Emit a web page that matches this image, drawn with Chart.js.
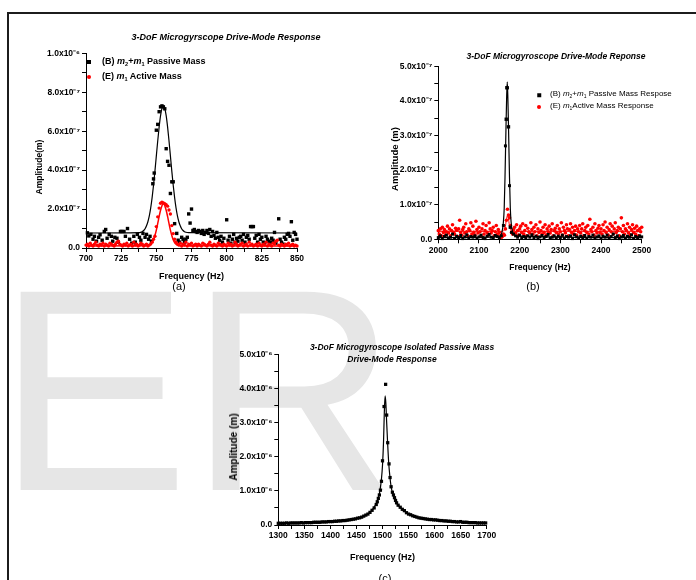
<!DOCTYPE html>
<html>
<head>
<meta charset="utf-8">
<script src="https://cdn.jsdelivr.net/npm/chart.js@4.4.1/dist/chart.umd.min.js"></script>
<style>
  html, body { margin: 0; padding: 0; background: #fff; }
  #page { position: relative; width: 696px; height: 580px; overflow: hidden; font-family: "Liberation Sans", Arial, sans-serif; color: #000; }
  .frame { position: absolute; left: 7px; top: 12px; width: 700px; height: 600px; border-left: 2px solid #1c1c1c; border-top: 2px solid #1c1c1c; }
  .mark { position: absolute; left: -3px; top: 246px; font-size: 288px; line-height: 1; color: #e6e6e6; white-space: nowrap; }
  .plot { position: absolute; }
  .txt { position: absolute; white-space: nowrap; line-height: 1; transform: translate(-50%, -50%); }
  .ttl { font-weight: bold; font-style: italic; }
  .ytl { font-weight: bold; transform: translate(-50%, -50%) rotate(-90deg); }
  .cap { font-size: 11px; }
  .lg { position: absolute; white-space: nowrap; line-height: 1; transform: translateY(-50%); }
  .lg sub { font-size: 0.62em; vertical-align: -0.3em; }
  .sq { position: absolute; width: 4px; height: 4px; background: #000; transform: translate(-50%, -50%); }
  .dot { position: absolute; width: 4px; height: 4px; border-radius: 50%; background: #ff0000; transform: translate(-50%, -50%); }
</style>
</head>
<body>
<div id="page">
  <div class="mark">ER</div>
  <div class="frame"></div>

  <canvas id="chartA" class="plot" width="350" height="268" style="left:0px;top:20px"></canvas>
  <canvas id="chartB" class="plot" width="336" height="250" style="left:360px;top:40px"></canvas>
  <canvas id="chartC" class="plot" width="320" height="235" style="left:200px;top:335px"></canvas>

  <!-- (a) -->
  <div class="txt ttl" style="left:226px;top:37px;font-size:9px">3-DoF Microgyrscope Drive-Mode Response</div>
  <div class="txt ytl" style="left:39px;top:167px;font-size:8.5px">Amplitude(m)</div>
  <div class="sq" style="left:89px;top:62px"></div>
  <div class="lg" style="left:102px;top:62px;font-size:9px;font-weight:bold">(B) <i>m</i><sub>2</sub>+<i>m</i><sub>1</sub> Passive Mass</div>
  <div class="dot" style="left:89px;top:77px"></div>
  <div class="lg" style="left:102px;top:77px;font-size:9px;font-weight:bold">(E) <i>m</i><sub>1</sub> Active Mass</div>
  <div class="txt cap" style="left:179px;top:286px">(a)</div>

  <!-- (b) -->
  <div class="txt ttl" style="left:556px;top:56px;font-size:8.5px">3-DoF Microgyroscope Drive-Mode Reponse</div>
  <div class="txt ytl" style="left:395px;top:159px;font-size:9.5px">Amplitude (m)</div>
  <div class="sq" style="left:539px;top:95px;width:3.5px;height:3.5px"></div>
  <div class="lg" style="left:550px;top:95px;font-size:8px">(B) <i>m</i><sub>2</sub>+<i>m</i><sub>1</sub> Passive Mass Respose</div>
  <div class="dot" style="left:539px;top:107px"></div>
  <div class="lg" style="left:550px;top:107px;font-size:8px">(E) <i>m</i><sub>1</sub>Active Mass Response</div>
  <div class="txt cap" style="left:533px;top:286px">(b)</div>

  <!-- (c) -->
  <div class="txt ttl" style="left:402px;top:347px;font-size:8.5px">3-DoF Microgyroscope Isolated Passive Mass</div>
  <div class="txt ttl" style="left:392px;top:359px;font-size:8.5px">Drive-Mode Response</div>
  <div class="txt ytl" style="left:234px;top:447px;font-size:10px">Amplitude (m)</div>
  <div class="txt cap" style="left:385px;top:578px">(c)</div>
</div>

<script>
// ---------- (a) 700-850 Hz, amplitudes in units of 1e-7 m ----------
const freqLabelsA = ["700", "725", "750", "775", "800", "825", "850"]
const ampLabelsA = ["0.0", "2.0x10⁻⁷", "4.0x10⁻⁷", "6.0x10⁻⁷", "8.0x10⁻⁷", "1.0x10⁻⁶"]

const passiveFreqA = [
  701, 702, 703.5, 705, 706, 707.5, 709, 710, 711.5, 713, 714, 715, 716.5, 718, 719, 720.5, 722, 723,
  724.5, 725.5, 727, 728, 729.5, 731, 732.5, 734, 735, 736.5, 738, 739, 740.5, 742, 743, 744.5, 745.5, 746.5,
  747.5, 748, 748.5, 750, 751, 752, 753, 754, 755, 756, 757, 758, 759, 760, 761, 762, 763,
  764.5, 765.5, 766.5, 768, 769, 770, 771, 772, 773, 774,
  775, 776, 777, 778, 779, 780, 781, 782, 783, 784, 785, 786, 787, 788, 789, 790, 791, 792, 793, 794, 795, 796, 797, 798,
  800, 801, 802, 803, 804, 805, 806, 807, 808, 809, 810, 811, 812, 813, 814, 815, 816, 817, 818, 819,
  820, 821, 822, 823, 824, 825, 826, 827, 828, 829, 830, 831, 832, 833, 834, 835,
  837, 838, 839, 840, 841, 842, 843, 844, 845, 846, 847, 848, 849, 850
]
const passiveAmpA = [
  .78, .62, .7, .45, .6, .35, .55, .68, .4, .85, .95, .5, .7, .6, .35, .55, .5, .3,
  .85, .85, .85, .6, 1.0, .45, .25, .6, .3, .7, .55, .4, .75, .55, .7, .45, .6, .35,
  3.3, 3.55, 3.85, 6.05, 6.35, 7.0, 7.25, 7.3, 7.25, 7.15, 5.1, 4.45, 4.25, 2.8, 3.4, 3.4, 1.25,
  .75, .4, .3, .55, .45, .3, .45, .55, 1.75, 1.28,
  2.0, .9, .95, .85, .8, .9, .85, .75, .9, .7, .8, .9, .75, .95, .6, .85, .65, .5, .8, .55, .4, .6, .3, .5,
  1.45, .4, .6, .25, .45, .7, .3, .5, .35, .55, .6, .4, .7, .3, .55, .65, .45, 1.1, 1.1, 1.1,
  .5, .65, .3, .7, .45, .55, .3, .25, .6, .45, .35, .3, .5, .4, .8, .25,
  1.5, .45, .3, .2, .55, .45, .7, .75, .6, 1.35, .4, .8, .7, .45
]
const passiveFitFreqA = [
  700, 738, 739, 740, 741, 742, 743, 744, 745, 746, 747, 748, 749, 750, 751, 752, 753, 754, 755,
  756, 757, 758, 759, 760, 761, 762, 763, 764, 765, 766, 767, 768, 769, 770, 771, 773, 850
]
const passiveFitAmpA = [
  .77, .79, .81, .84, .9, .99, 1.14, 1.35, 1.65, 2.06, 2.59, 3.22, 3.95, 4.73, 5.51, 6.22, 6.8, 7.17, 7.3,
  7.17, 6.8, 6.22, 5.51, 4.73, 3.95, 3.22, 2.59, 2.06, 1.65, 1.35, 1.14, .99, .9, .84, .81, .79, .77
]
// active mass sampled every 1 Hz from 700 Hz
const activeStartA = 700
const activeStepA = 1
const activeAmpA = [
  .15, .2, .1, .25, .15, .1, .2, .3, .15, .1, .2, .15, .25, .1, .2, .15, .1, .25, .2, .15,
  .1, .2, .3, .35, .2, .15, .1, .2, .15, .25, .1, .15, .2, .1, .3, .15, .2, .1, .15, .25,
  .2, .1, .15, .2, .1, .15, .2, .3, .45, .6, 1.1, 1.6, 2.05, 2.3, 2.35, 2.32, 2.28, 2.22, 2.15, 1.95,
  1.75, 1.15, .74, .45, .3, .2, .15, .25, .1, .2, .15, .3, .1, .2, .15, .25, .1, .15, .2, .1,
  .2, .15, .1, .25, .2, .15, .1, .2, .3, .15, .1, .2, .15, .1, .25, .2, .15, .1, .2, .15,
  .1, .25, .15, .2, .1, .15, .3, .2, .1, .15, .2, .25, .1, .15, .2, .1, .3, .15, .2, .1,
  .15, .2, .1, .25, .15, .1, .2, .15, .3, .1, .2, .15, .1, .25, .2, .35, .4, .15, .1, .2,
  .15, .1, .2, .15, .25, .1, .15, .2, .1, .15, .1
]
const activeFitFreqA = [700, 743, 745, 746, 747, 748, 749, 750, 751, 752, 753, 754, 755, 756, 757, 758, 759, 760, 761, 762, 763, 764, 765, 767, 850]
const activeFitAmpA = [.1, .11, .145, .19, .28, .42, .64, .92, 1.26, 1.62, 1.94, 2.17, 2.3, 2.17, 1.94, 1.62, 1.26, .92, .64, .42, .28, .19, .145, .11, .1]

// ---------- (b) 2000-2500 Hz, amplitudes in units of 1e-7 m ----------
const freqLabelsB = ["2000", "2100", "2200", "2300", "2400", "2500"]
const ampLabelsB = ["0.0", "1.0x10⁻⁷", "2.0x10⁻⁷", "3.0x10⁻⁷", "4.0x10⁻⁷", "5.0x10⁻⁷"]

// passive mass sampled every 5 Hz from 2000 Hz
const passiveStartB = 2000
const passiveStepB = 5
const passiveAmpB = [
  .05, .1, .02, .08, .12, .04, .06, .15, .03, .09, .05, .11, .02, .07, .13, .04, .08, .06, .1, .03,
  .07, .12, .05, .02, .09, .14, .06, .04, .11, .08, .03, .1, .4, 2.7, 4.38, 1.55, .2, .15, .1, .06,
  .12, .05, .08, .03, .1, .06, .13, .04, .09, .02, .07, .11, .05, .08, .14, .03, .06, .1, .04, .09,
  .05, .12, .03, .08, .06, .1, .02, .13, .07, .04, .09, .05, .11, .03, .08, .06, .12, .04, .07, .1,
  .03, .09, .06, .12, .04, .08, .15, .05, .1, .02, .07, .11, .04, .09, .06, .13, .03, .08, .05, .1, .07
]
const passivePeakFreqB = [2167, 2168.5, 2172.5, 2177]
const passivePeakAmpB = [3.47, 4.38, 3.25, .35]
const passiveFitFreqB = [2000, 2150, 2155, 2158, 2160, 2162, 2164, 2166, 2168, 2169.5, 2171, 2173, 2175, 2177, 2179, 2181, 2185, 2190, 2500]
const passiveFitAmpB = [.05, .08, .15, .3, .5, .9, 1.8, 3.0, 4.1, 4.55, 4.1, 3.0, 1.8, .9, .5, .3, .15, .1, .05]

// active mass sampled every 2.5 Hz from 2000 Hz
const activeStartB = 2000
const activeStepB = 2.5
const activeAmpB = [
  .25, .15, .3, .1, .35, .2, .28, .12, .22, .38, .18, .3, .1, .25, .42, .2, .15, .32, .26, .08,
  .3, .55, .2, .12, .28, .35, .18, .45, .22, .1, .3, .25, .48, .15, .38, .2, .12, .52, .28, .18,
  .35, .22, .1, .3, .45, .15, .25, .4, .2, .12, .48, .3, .18, .25, .35, .1, .22, .4, .15, .28,
  .2, .1, .05, .08, .15, .12, .3, .55, .87, .7, .62, .4, .2, .15, .28, .35, .18, .42, .25, .12,
  .3, .38, .2, .45, .15, .25, .4, .1, .32, .22, .18, .48, .28, .15, .35, .22, .42, .1, .3, .2,
  .5, .25, .15, .35, .2, .42, .12, .3, .22, .38, .18, .28, .45, .1, .25, .32, .2, .4, .15, .3,
  .22, .48, .12, .35, .25, .18, .42, .3, .1, .28, .45, .2, .35, .15, .25, .38, .12, .3, .22, .4,
  .18, .3, .45, .1, .25, .35, .2, .4, .15, .58, .28, .22, .35, .12, .45, .25, .18, .32, .4, .2,
  .3, .15, .42, .25, .5, .2, .35, .12, .28, .45, .22, .38, .15, .3, .48, .2, .25, .35, .1, .3,
  .62, .22, .4, .15, .3, .25, .45, .18, .35, .12, .28, .42, .2, .32, .15, .38, .25, .1, .3, .22, .35
]
const activeFitFreqB = [2000, 2158, 2162, 2165, 2167, 2170, 2173, 2175, 2178, 2182, 2500]
const activeFitAmpB = [.23, .23, .27, .38, .55, .68, .55, .38, .27, .23, .23]

// ---------- (c) 1300-1700 Hz, amplitudes in units of 1e-6 m ----------
const freqLabelsC = ["1300", "1350", "1400", "1450", "1500", "1550", "1600", "1650", "1700"]
const ampLabelsC = ["0.0", "1.0x10⁻⁶", "2.0x10⁻⁶", "3.0x10⁻⁶", "4.0x10⁻⁶", "5.0x10⁻⁶"]

const isolatedFreqC = [
  1300, 1304, 1308, 1312, 1316, 1320, 1324, 1328, 1332, 1336, 1340, 1344, 1348, 1352, 1356, 1360, 1364, 1368, 1372, 1376,
  1380, 1384, 1388, 1392, 1396, 1400, 1404, 1408, 1412, 1416, 1420, 1424, 1428, 1432, 1436, 1440, 1444, 1448, 1452, 1456,
  1460, 1464, 1468, 1472, 1476, 1480, 1484, 1488,
  1490, 1492, 1494, 1496, 1498, 1500, 1503, 1506, 1508, 1510, 1512.5, 1514.5, 1516.5, 1519, 1521, 1523, 1525, 1527, 1530,
  1534, 1538, 1542, 1546, 1550, 1554, 1558, 1562, 1566, 1570, 1574, 1578, 1582, 1586, 1590, 1594, 1598, 1602, 1606, 1610,
  1614, 1618, 1622, 1626, 1630, 1634, 1638, 1642, 1646, 1650, 1654, 1658, 1662, 1666, 1670, 1674, 1678, 1682, 1686, 1690,
  1694, 1698
]
const isolatedAmpC = [
  .05, .05, .05, .05, .06, .05, .06, .06, .06, .06, .06, .07, .06, .07, .07, .07, .07, .08, .08, .08,
  .08, .09, .09, .09, .1, .1, .1, .11, .11, .12, .12, .13, .13, .14, .15, .16, .17, .18, .2, .21,
  .23, .26, .29, .32, .37, .43, .5, .6,
  .68, .78, .88, 1.02, 1.28, 1.88, 3.47, 4.12, 3.22, 2.41, 1.79, 1.39, 1.12, .96, .88, .8, .72, .65, .58,
  .52, .46, .42, .36, .32, .3, .27, .25, .23, .21, .2, .19, .18, .17, .16, .16, .15, .15, .14, .13,
  .13, .12, .12, .11, .11, .1, .1, .09, .09, .1, .08, .08, .08, .07, .07, .07, .07, .06, .06, .06,
  .06, .06
]
const isolatedFitFreqC = [
  1300, 1350, 1400, 1430, 1450, 1465, 1475, 1482, 1488, 1492, 1495, 1498, 1500, 1502, 1503.5, 1505, 1506.5,
  1508, 1510, 1512, 1514, 1516, 1519, 1523, 1527, 1534, 1540, 1550, 1570, 1600, 1635, 1670, 1700
]
const isolatedFitAmpC = [
  .05, .06, .09, .13, .19, .27, .36, .48, .63, .8, 1.0, 1.35, 1.75, 2.45, 3.3, 3.78, 3.55,
  3.0, 2.35, 1.8, 1.45, 1.18, .95, .78, .64, .52, .43, .32, .21, .15, .1, .07, .05
]

// ---------- helpers ----------
const pairs = (xs, ys) => ys.map((y, i) => ({ x: xs[i], y }))
const sweep = (start, step, ys) => ys.map((y, i) => ({ x: start + i * step, y }))

const labelAt = (labels, start, step) => (v) => {
  const k = (v - start) / step
  const r = Math.round(k)
  return Math.abs(k - r) < 1e-6 ? labels[r] : ""
}

const tickFont = { family: "Liberation Sans", size: 8.5, weight: "bold" }

function axis(min, max, minorStep, labels, labelStep, extra) {
  return Object.assign({
    type: "linear",
    min,
    max,
    border: { display: true, color: "#000", width: 1 },
    grid: { drawOnChartArea: false, drawTicks: true, tickLength: 4, color: "#000", lineWidth: 1 },
    ticks: {
      stepSize: minorStep,
      autoSkip: false,
      maxRotation: 0,
      padding: 2,
      color: "#000",
      font: tickFont,
      callback: labelAt(labels, min, labelStep),
    },
  }, extra)
}

function dots(data, color, style, radius) {
  return {
    data,
    showLine: false,
    pointStyle: style,
    pointRadius: radius,
    pointBackgroundColor: color,
    pointBorderWidth: 0,
    clip: false,
  }
}

function fit(data, color, width) {
  return {
    data,
    showLine: true,
    pointRadius: 0,
    borderColor: color,
    borderWidth: width,
    cubicInterpolationMode: "monotone",
    clip: false,
  }
}

function makeChart(id, datasets, x, y, box) {
  x.title = {
    display: true,
    text: "Frequency (Hz)",
    color: "#000",
    font: { family: "Liberation Sans", size: box.xTitleSize, weight: "bold" },
    padding: { top: 0, bottom: box.xTitlePad },
  }
  x.afterFit = (s) => { s.height = box.xH }
  y.afterFit = (s) => { s.width = box.yW }
  return new Chart(document.getElementById(id).getContext("2d"), {
    type: "scatter",
    data: { datasets },
    options: {
      responsive: false,
      devicePixelRatio: 1,
      animation: false,
      layout: { padding: box.pad },
      plugins: { legend: { display: false }, tooltip: { enabled: false } },
      scales: { x, y },
    },
  })
}

// (a)
makeChart("chartA", [
  Object.assign(fit(pairs(passiveFitFreqA, passiveFitAmpA), "#000", 1.2), { order: 3 }),
  Object.assign(dots(pairs(passiveFreqA, passiveAmpA), "#000", "rect", 2.4), { order: 2 }),
  Object.assign(fit(pairs(activeFitFreqA, activeFitAmpA), "#ff0000", 1.5), { order: 1 }),
  Object.assign(dots(sweep(activeStartA, activeStepA, activeAmpA), "#ff0000", "circle", 1.7), { order: 0 }),
],
  axis(700, 850, 12.5, freqLabelsA, 25),
  axis(0, 10, 1, ampLabelsA, 2),
  { pad: { left: 0, right: 53, top: 33.3, bottom: 0 }, yW: 86, xH: 40, xTitleSize: 9, xTitlePad: 6 })

// (b)
makeChart("chartB", [
  Object.assign(dots(sweep(activeStartB, activeStepB, activeAmpB), "#ff0000", "circle", 1.8), { order: 4 }),
  Object.assign(fit(pairs(activeFitFreqB, activeFitAmpB), "#ff0000", 1), { order: 3 }),
  Object.assign(dots(sweep(passiveStartB, passiveStepB, passiveAmpB), "#000", "rect", 2.1), { order: 2 }),
  Object.assign(dots(pairs(passivePeakFreqB, passivePeakAmpB), "#000", "rect", 2.4), { order: 1 }),
  Object.assign(fit(pairs(passiveFitFreqB, passiveFitAmpB), "#000", 1.2), { order: 0 }),
],
  axis(2000, 2500, 50, freqLabelsB, 100),
  axis(0, 5, 0.5, ampLabelsB, 1),
  { pad: { left: 0, right: 54.3, top: 26.3, bottom: 0 }, yW: 78.3, xH: 50.7, xTitleSize: 8.5, xTitlePad: 17 })

// (c)
makeChart("chartC", [
  Object.assign(fit(pairs(isolatedFitFreqC, isolatedFitAmpC), "#000", 1.2), { order: 1 }),
  Object.assign(dots(pairs(isolatedFreqC, isolatedAmpC), "#000", "rect", 2.3), { order: 0 }),
],
  axis(1300, 1700, 25, freqLabelsC, 50),
  axis(0, 5, 0.5, ampLabelsC, 1),
  { pad: { left: 0, right: 33.3, top: 19.3, bottom: 0 }, yW: 78.3, xH: 45, xTitleSize: 9, xTitlePad: 7 })
</script>
</body>
</html>
